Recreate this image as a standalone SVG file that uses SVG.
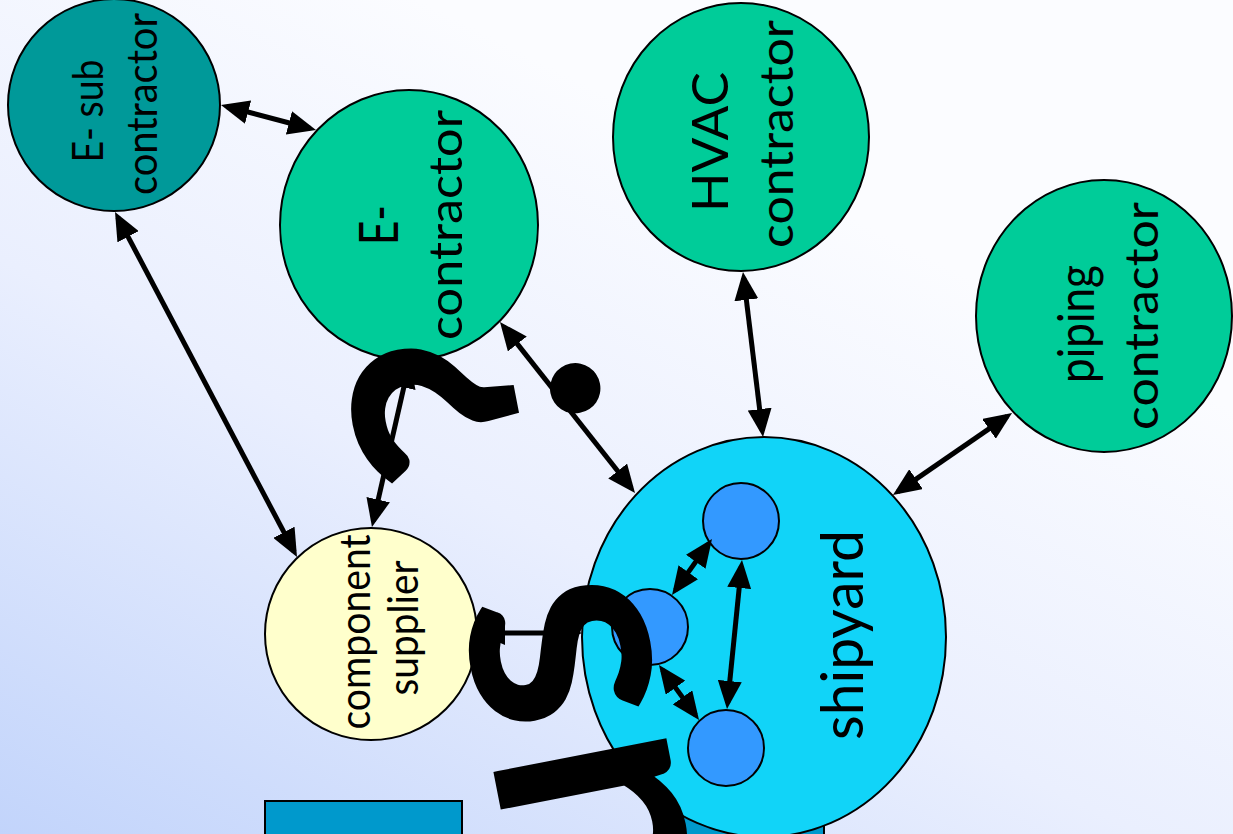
<svg xmlns="http://www.w3.org/2000/svg" width="1233" height="834" viewBox="0 0 1233 834">
  <defs>
    <linearGradient id="bg" gradientUnits="userSpaceOnUse" x1="0" y1="834" x2="420" y2="0">
      <stop offset="0" stop-color="#c2d4fb"/>
      <stop offset="0.55" stop-color="#eaeffe"/>
      <stop offset="1" stop-color="#fbfcff"/>
    </linearGradient>
    <marker id="head" viewBox="0 0 28 24" refX="22" refY="12" markerWidth="28" markerHeight="24" markerUnits="userSpaceOnUse" orient="auto-start-reverse">
      <path d="M0,0 L28,12 L0,24 z" fill="#000"/>
    </marker>
    <style>
      .node { stroke: #000; stroke-width: 2; }
      .lbl { font-family: Lato, "Open Sans", "Liberation Sans", sans-serif; fill: #000; text-anchor: middle; }
      .link { fill: none; stroke: #000; stroke-width: 5; marker-start: url(#head); marker-end: url(#head); }
      .big { font-family: Lato, "Open Sans", "Liberation Sans", sans-serif; font-size: 330px; fill: #000; stroke: #000; stroke-width: 9; stroke-linejoin: miter; text-anchor: middle; }
    </style>
  </defs>

  <rect width="1233" height="834" fill="url(#bg)"/>

  <!-- bottom blocks -->
  <g id="block-left"><rect class="node" x="265" y="801" width="197" height="40" fill="#0099cc"/></g>
  <g id="block-right"><rect class="node" x="676" y="801" width="148" height="40" fill="#0099cc"/></g>

  <!-- nodes -->
  <g id="e-subcontractor">
    <circle class="node" cx="114" cy="105" r="106" fill="#009999"/>
    <text class="lbl" font-size="42" transform="translate(103,111) rotate(-90)" textLength="103" lengthAdjust="spacingAndGlyphs">E- sub</text>
    <text class="lbl" font-size="42" transform="translate(157,104) rotate(-90)" textLength="182" lengthAdjust="spacingAndGlyphs">contractor</text>
  </g>

  <g id="e-contractor">
    <ellipse class="node" cx="409" cy="225" rx="129" ry="135" fill="#00cc99"/>
    <text class="lbl" font-size="54" transform="translate(398,225) rotate(-90)" textLength="40" lengthAdjust="spacingAndGlyphs">E-</text>
    <text class="lbl" font-size="46" transform="translate(462,225) rotate(-90)" textLength="230" lengthAdjust="spacingAndGlyphs">contractor</text>
  </g>

  <g id="hvac-contractor">
    <ellipse class="node" cx="741" cy="137" rx="128" ry="134" fill="#00cc99"/>
    <text class="lbl" font-size="50" transform="translate(728,142) rotate(-90)" textLength="140" lengthAdjust="spacingAndGlyphs">HVAC</text>
    <text class="lbl" font-size="46" transform="translate(793,134) rotate(-90)" textLength="228" lengthAdjust="spacingAndGlyphs">contractor</text>
  </g>

  <g id="piping-contractor">
    <ellipse class="node" cx="1104" cy="316" rx="128" ry="136" fill="#00cc99"/>
    <text class="lbl" font-size="50" transform="translate(1094,324) rotate(-90)" textLength="118" lengthAdjust="spacingAndGlyphs">piping</text>
    <text class="lbl" font-size="46" transform="translate(1158,316) rotate(-90)" textLength="228" lengthAdjust="spacingAndGlyphs">contractor</text>
  </g>

  <g id="component-supplier">
    <circle class="node" cx="371" cy="634" r="106" fill="#ffffcc"/>
    <text class="lbl" font-size="42" transform="translate(370,632) rotate(-90)" textLength="195" lengthAdjust="spacingAndGlyphs">component</text>
    <text class="lbl" font-size="42" transform="translate(418,628) rotate(-90)" textLength="135" lengthAdjust="spacingAndGlyphs">supplier</text>
  </g>

  <g id="shipyard">
    <ellipse class="node" cx="764" cy="637" rx="182" ry="200" fill="#11d4f8"/>
    <text class="lbl" font-size="58" transform="translate(863,635) rotate(-90)" textLength="210" lengthAdjust="spacingAndGlyphs">shipyard</text>
    <circle class="node" cx="741" cy="521" r="38" fill="#3399ff"/>
    <circle class="node" cx="650" cy="627" r="38" fill="#3399ff"/>
    <circle class="node" cx="726" cy="748" r="38" fill="#3399ff"/>
  </g>

  <!-- connectors -->
  <g id="connectors">
    <line class="link" x1="226.8" y1="106.5" x2="310.2" y2="128.5"/>
    <line class="link" x1="117.8" y1="217.3" x2="294.2" y2="551.7"/>
    <line class="link" x1="408.7" y1="365.9" x2="373.3" y2="521.1"/>
    <line class="link" x1="503.7" y1="326.7" x2="631.3" y2="488.3"/>
    <line class="link" x1="743.7" y1="278" x2="762.3" y2="431"/>
    <line class="link" x1="1007.1" y1="416.4" x2="897.9" y2="491.6"/>
    <line class="link" x1="483" y1="633" x2="576" y2="633"/>
    <line class="link" x1="708.5" y1="543.9" x2="675.5" y2="590.1"/>
    <line class="link" x1="741.4" y1="566" x2="727.6" y2="703"/>
    <line class="link" x1="662.5" y1="669.9" x2="695.5" y2="715.1"/>
  </g>

  <!-- large tilted lettering over the diagram -->
  <g id="overlay-text">
    <text class="big" transform="translate(645,652) rotate(-101)"><tspan x="-162" y="0">u</tspan><tspan x="14" y="0">s</tspan><tspan x="280" y="0">?</tspan></text>
  </g>
</svg>
